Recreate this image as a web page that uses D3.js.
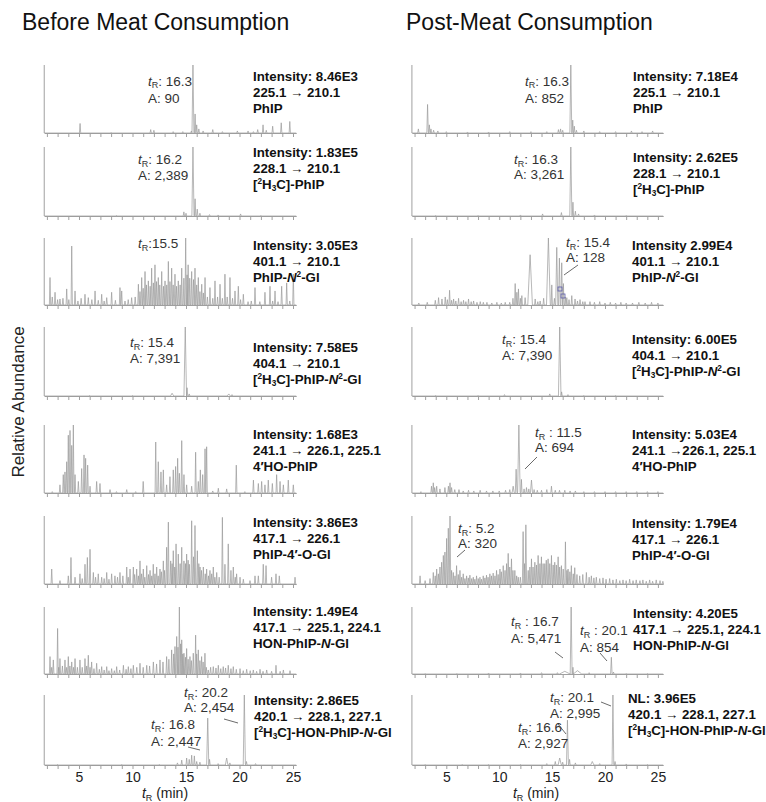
<!DOCTYPE html>
<html>
<head>
<meta charset="utf-8">
<script src="https://cdn.jsdelivr.net/npm/d3@7"></script>
<style>
  body { margin: 0; background: #fff; }
  text { font-family: "Liberation Sans", Arial, sans-serif; }
</style>
</head>
<body>
<div id="chart"></div>
<script>
// ---------- data ----------
const titles = ["Before Meat Consumption", "Post-Meat Consumption"];
const analytes = ["PhIP", "[^2H_3C]-PhIP", "PhIP-*N*^2-Gl", "[^2H_3C]-PhIP-*N*^2-Gl",
                  "4′HO-PhIP", "PhIP-4′-O-Gl", "HON-PhIP-*N*-Gl", "[^2H_3C]-HON-PhIP-*N*-Gl"];
const transBefore = ["225.1  → 210.1", "228.1  → 210.1", "401.1  → 210.1", "404.1  → 210.1",
                     "241.1 → 226.1, 225.1", "417.1 → 226.1", "417.1 → 225.1, 224.1", "420.1 → 228.1, 227.1"];
const transPost = ["225.1  → 210.1", "228.1  → 210.1", "401.1  → 210.1", "404.1  → 210.1",
                   "241.1 →226.1, 225.1", "417.1 → 226.1", "417.1 → 225.1, 224.1", "420.1 → 228.1, 227.1"];
const intensBefore = ["Intensity: 8.46E3", "Intensity: 1.83E5", "Intensity: 3.05E3", "Intensity: 7.58E5",
                      "Intensity: 1.68E3", "Intensity: 3.86E3", "Intensity: 1.49E4", "Intensity: 2.86E5"];
const intensPost = ["Intensity: 7.18E4", "Intensity: 2.62E5", "Intensity 2.99E4", "Intensity: 6.00E5",
                    "Intensity: 5.03E4", "Intensity: 1.79E4", "Intensity: 4.20E5", "NL: 3.96E5"];
const minorTicks = d3.range(2, 26);
const majorTicks = [5, 10, 15, 20, 25];

// peaks: [tR (min), relative height, half width (min, default 0.06)]
const b1 = [[5.1,0.14],[8.0,0.01],[11.7,0.05],[12.0,0.04],[13.8,0.02],[14.7,0.02],[15.5,0.03],[15.65,1.0,0.09],
  [15.85,0.28],[16.0,0.12],[16.2,0.06],[16.6,0.03],[17.5,0.05],[18.4,0.02],[19.8,0.03],[20.8,0.03],[21.3,0.02],
  [21.7,0.05],[22.2,0.12],[22.5,0.04],[23.1,0.1],[23.9,0.15],[24.7,0.17]];
const b2 = [[8.5,0.01],[14.8,0.06],[15.0,0.04],[15.65,1.0,0.1],[15.85,0.25],[16.05,0.1],[16.3,0.04],[17.2,0.02],
  [18.0,0.015],[20.1,0.03],[22.0,0.01]];
const b3 = [[2.29,0.41],[2.5,0.12],[2.76,0.19],[3.0,0.08],[3.22,0.09],[3.5,0.1],[3.85,0.24],[4.05,0.08],[4.32,0.88],
  [4.63,0.21],[4.9,0.06],[5.2,0.1],[5.56,0.16],[5.87,0.11],[6.2,0.08],[6.5,0.21],[6.8,0.07],[7.12,0.16],[7.35,0.06],
  [7.59,0.11],[8.05,0.19],[8.4,0.07],[8.83,0.26],[8.99,0.21],[9.3,0.06],[9.6,0.08],[9.92,0.11],[10.25,0.12],
  [10.55,0.31],[10.7,0.2],[10.86,0.41],[11.0,0.25],[11.17,0.5],[11.3,0.3],[11.48,0.36],[11.65,0.28],[11.79,0.55],
  [11.95,0.33],[12.1,0.6],[12.25,0.35],[12.41,0.41],[12.55,0.3],[12.73,0.5],[12.9,0.28],[13.04,0.36],[13.2,0.3],
  [13.35,0.65],[13.5,0.35],[13.66,0.55],[13.8,0.3],[13.97,0.46],[14.12,0.28],[14.28,0.36],[14.45,0.3],[14.6,0.55],
  [14.8,0.4],[14.97,1.0],[15.1,0.45],[15.2,0.6],[15.35,0.4],[15.53,0.5],[15.7,0.38],[15.84,0.55],[16.0,0.3],
  [16.15,0.41],[16.3,0.2],[16.47,0.31],[16.62,0.18],[16.78,0.41],[17.0,0.12],[17.24,0.26],[17.5,0.1],[17.71,0.36],
  [17.95,0.12],[18.18,0.31],[18.4,0.1],[18.64,0.46],[18.85,0.12],[19.11,0.41],[19.35,0.1],[19.58,0.21],[19.89,0.28],
  [20.1,0.08],[20.36,0.16],[20.8,0.05],[21.1,0.06],[21.45,0.26],[21.9,0.05],[22.38,0.19],[22.85,0.28],[23.1,0.06],
  [23.32,0.21],[23.6,0.05],[23.94,0.28],[24.41,0.33],[24.7,0.06],[25.03,0.46]];
const b4 = [[6.0,0.01],[10.0,0.01],[13.7,0.04,0.15],[14.93,1.0,0.12],[15.1,0.12],[15.3,0.03],[19.0,0.03,0.15],[19.3,0.02]];
const b5 = [[2.5,0.02],[3.22,0.12],[3.53,0.27],[3.69,0.31],[3.85,0.46],[4.0,0.85],[4.16,0.92],[4.32,0.7],[4.47,1.0],
  [4.63,0.27],[4.94,0.17],[5.25,0.36],[5.47,0.56],[5.62,0.51],[5.81,0.41],[6.03,0.1],[6.65,0.17],[6.96,0.14],
  [7.9,0.05],[8.5,0.02],[9.46,0.05],[10.3,0.02],[11.0,0.17],[12.17,0.75],[12.41,0.46],[12.66,0.31],[12.88,0.34],
  [13.19,0.12],[13.5,0.24],[13.81,0.34],[14.03,0.39],[14.22,0.51],[14.38,0.29],[14.6,0.77],[14.81,0.27],[15.06,0.12],
  [15.53,0.1],[15.9,0.6],[16.15,0.17],[16.34,0.34],[16.56,0.27],[16.78,0.65],[16.93,0.68],[17.5,0.03],[18.02,0.07],
  [18.8,0.06],[19.7,0.41],[20.5,0.02],[21.3,0.19],[21.76,0.14],[22.07,0.17],[22.38,0.12],[22.69,0.19],[23.07,0.14],
  [23.47,0.27],[23.79,0.17],[24.1,0.12],[24.56,0.19],[25.03,0.12]];
const b6 = [[2.45,0.22],[3.22,0.05],[4.0,0.12],[4.25,0.39],[4.63,0.1],[5.09,0.15],[5.3,0.08],[5.56,0.29],[5.78,0.39],
  [6.03,0.51],[6.34,0.17],[6.55,0.1],[6.8,0.15],[7.12,0.1],[7.35,0.08],[7.59,0.17],[7.8,0.07],[8.05,0.15],[8.36,0.12],
  [8.6,0.1],[8.83,0.17],[9.1,0.12],[9.46,0.25],[9.6,0.1],[9.77,0.22],[10.08,0.25],[10.2,0.14],[10.39,0.22],
  [10.55,0.12],[10.7,0.34],[10.85,0.15],[11.01,0.22],[11.15,0.1],[11.33,0.27],[11.5,0.14],[11.64,0.2],[11.8,0.12],
  [11.94,0.29],[12.1,0.15],[12.26,0.25],[12.4,0.12],[12.57,0.22],[12.7,0.18],[12.88,0.34],[13.0,0.2],[13.19,0.54],
  [13.35,0.91],[13.57,0.34],[13.7,0.3],[13.81,0.49],[13.95,0.25],[14.07,0.59],[14.28,0.44],[14.45,0.3],[14.6,0.54],
  [14.81,0.34],[14.95,0.3],[15.06,0.44],[15.2,0.35],[15.31,0.29],[15.53,0.93],[15.7,0.4],[15.84,0.86],[16.06,0.49],
  [16.2,0.3],[16.31,0.25],[16.45,0.2],[16.62,0.25],[16.8,0.15],[16.93,0.22],[17.1,0.12],[17.24,0.2],[17.4,0.15],
  [17.55,0.25],[17.7,0.1],[17.87,0.17],[18.1,0.1],[18.4,0.98],[18.64,0.29],[18.95,0.59],[19.2,0.2],[19.42,0.25],
  [19.6,0.1],[19.73,0.15],[20.05,0.1],[20.36,0.07],[20.98,0.05],[21.45,0.12],[21.76,0.12],[22.22,0.29],[22.48,0.27],
  [23.0,0.1],[23.41,0.15],[23.72,0.12],[25.19,0.1]];
const b7 = [[2.29,0.26],[2.45,0.1],[2.6,0.21],[3.0,0.68],[3.1,0.1],[3.22,0.23],[3.45,0.12],[3.69,0.21],[3.85,0.1],
  [4.0,0.26],[4.15,0.12],[4.32,0.18],[4.48,0.1],[4.63,0.23],[4.85,0.1],[5.09,0.21],[5.3,0.1],[5.56,0.23],[5.72,0.12],
  [5.87,0.28],[6.03,0.1],[6.18,0.18],[6.4,0.08],[6.65,0.16],[6.9,0.07],[7.12,0.11],[7.35,0.06],[7.59,0.11],[7.8,0.05],
  [8.05,0.08],[8.3,0.05],[8.52,0.11],[8.8,0.06],[9.15,0.13],[9.4,0.07],[9.61,0.11],[9.85,0.08],[10.08,0.13],
  [10.4,0.1],[10.7,0.16],[11.0,0.1],[11.33,0.13],[11.6,0.12],[11.95,0.18],[12.25,0.15],[12.57,0.21],[12.85,0.18],
  [13.19,0.26],[13.4,0.22],[13.66,0.36],[13.85,0.3],[13.97,0.41],[14.13,0.56],[14.25,0.4],[14.38,1.0],[14.5,0.45],
  [14.6,0.51],[14.7,0.3],[14.81,0.31],[14.95,0.25],[15.06,0.38],[15.2,0.22],[15.37,0.26],[15.5,0.2],[15.68,0.31],
  [15.9,0.58],[16.0,0.3],[16.15,0.36],[16.3,0.2],[16.46,0.26],[16.6,0.18],[16.77,0.31],[16.9,0.1],[17.08,0.06],
  [17.3,0.1],[17.55,0.11],[17.8,0.09],[18.02,0.13],[18.25,0.08],[18.48,0.11],[18.7,0.09],[18.95,0.13],[19.2,0.08],
  [19.42,0.11],[19.7,0.07],[20.05,0.08],[20.35,0.05],[20.67,0.07],[21.0,0.05],[21.29,0.06],[21.6,0.04],[21.92,0.07],
  [22.2,0.04],[22.54,0.06],[23.0,0.04],[23.41,0.13],[23.8,0.04],[24.1,0.06],[24.72,0.05]];
const b8 = [[3.0,0.01],[9.0,0.01],[12.5,0.01],[14.2,0.03],[14.6,0.07],[15.06,0.1],[15.3,0.08],[15.53,0.14],[15.78,0.13],
  [16.0,0.05],[16.3,0.04],[17.03,0.67,0.1],[17.2,0.08],[18.0,0.02],[18.8,0.1,0.12],[19.1,0.03],[20.45,1.0,0.1],
  [20.65,0.05],[21.5,0.02]];

const p1 = [[2.36,0.06],[3.23,0.42,0.07],[3.4,0.12],[3.55,0.06],[3.8,0.04],[4.2,0.03],[5.0,0.02],[7.0,0.015],[9.0,0.015],
  [11.0,0.02],[13.0,0.02],[14.5,0.02],[15.6,0.05],[15.8,0.06],[16.0,0.04],[16.77,1.0,0.09],[16.95,0.19],[17.1,0.1],
  [17.3,0.04],[18.0,0.03],[19.5,0.02],[21.0,0.02],[22.5,0.03],[23.5,0.02],[24.5,0.03]];
const p2 = [[4.0,0.01],[8.0,0.01],[12.0,0.015],[14.1,0.03],[15.88,0.05],[16.77,1.0,0.1],[16.97,0.2],[17.2,0.07],
  [17.5,0.03],[19.0,0.015],[22.0,0.01]];
const p3 = [[2.4,0.03],[3.2,0.04],[3.96,0.07],[4.27,0.11],[4.59,0.09],[4.9,0.12],[5.1,0.08],[5.31,0.22],[5.5,0.07],
  [5.69,0.09],[5.9,0.06],[6.16,0.1],[6.4,0.05],[6.63,0.07],[6.85,0.05],[7.1,0.09],[7.35,0.05],[7.58,0.06],[7.9,0.04],
  [8.21,0.05],[8.5,0.04],[8.84,0.04],[9.3,0.03],[9.78,0.04],[10.2,0.03],[10.57,0.04],[11.0,0.04],[11.3,0.1],
  [11.51,0.32],[11.67,0.19],[11.82,0.24],[12.0,0.1],[12.14,0.14],[12.45,0.11],[12.92,0.75,0.22],[13.4,0.09],
  [13.65,0.05],[13.87,0.06],[14.2,0.1],[14.65,1.0,0.18],[14.97,0.3],[15.22,0.1],[15.44,0.86,0.1],[15.69,0.7,0.08],
  [15.91,0.63,0.08],[16.07,0.32],[16.25,0.12],[16.39,0.11],[16.6,0.08],[16.86,0.14],[17.17,0.09],[17.4,0.06],
  [17.64,0.08],[17.9,0.05],[18.11,0.05],[18.58,0.05],[19.0,0.04],[19.5,0.05],[20.0,0.03],[20.5,0.04],[21.0,0.03],
  [21.5,0.04],[22.0,0.03],[22.6,0.03],[23.2,0.04],[23.8,0.03],[24.4,0.04],[25.0,0.03]];
const p4 = [[4.0,0.01],[8.0,0.01],[10.5,0.02],[14.78,0.03],[15.72,1.0,0.12],[15.9,0.06],[16.5,0.02],[18.0,0.01],[21.0,0.01]];
const p5 = [[2.6,0.02],[3.6,0.1],[3.77,0.15],[3.9,0.08],[4.09,0.1],[4.4,0.06],[4.87,0.08],[5.2,0.1],[5.35,0.15],[5.5,0.08],
  [5.8,0.05],[6.2,0.05],[6.6,0.03],[7.1,0.04],[7.6,0.03],[8.2,0.04],[8.8,0.03],[9.4,0.03],[10.0,0.03],[10.6,0.04],
  [11.0,0.05],[11.32,0.1,0.1],[11.6,0.35,0.08],[11.86,1.0,0.12],[12.1,0.2],[12.35,0.06],[12.58,0.08],[12.8,0.06],
  [13.05,0.19,0.1],[13.3,0.05],[13.6,0.04],[14.0,0.04],[14.5,0.05],[14.94,0.1],[15.3,0.04],[15.7,0.04],[16.2,0.04],
  [16.7,0.03],[17.2,0.03],[18.0,0.02],[19.0,0.02],[20.0,0.02],[21.0,0.02],[22.0,0.02],[23.0,0.02],[24.0,0.02],[25.0,0.02]];
const p6 = [[2.52,0.12],[3.0,0.05],[3.46,0.08],[3.77,0.17],[3.95,0.12],[4.09,0.22],[4.25,0.15],[4.4,0.25],[4.56,0.32],
  [4.72,0.42],[4.87,0.47],[5.03,0.67],[5.19,0.82],[5.35,1.0,0.07],[5.5,0.2],[5.66,0.17],[5.82,0.12],[5.97,0.27],
  [6.13,0.14],[6.29,0.2],[6.45,0.1],[6.6,0.15],[6.76,0.08],[6.92,0.12],[7.08,0.09],[7.23,0.13],[7.4,0.08],[7.55,0.1],
  [7.7,0.07],[7.86,0.12],[8.02,0.08],[8.18,0.1],[8.33,0.07],[8.49,0.12],[8.65,0.09],[8.8,0.13],[8.95,0.1],[9.12,0.15],
  [9.27,0.12],[9.43,0.16],[9.6,0.12],[9.75,0.2],[9.9,0.14],[10.07,0.22],[10.2,0.18],[10.38,0.27],[10.55,0.2],
  [10.7,0.3],[10.85,0.45],[11.0,0.25],[11.16,0.37],[11.3,0.2],[11.48,0.2],[11.65,0.12],[11.8,0.1],[12.0,0.1],
  [12.26,0.77,0.07],[12.4,0.3],[12.52,0.87,0.07],[12.74,0.2],[12.9,0.25],[13.05,0.37],[13.2,0.25],[13.37,0.32],
  [13.52,0.28],[13.68,0.42],[13.85,0.3],[13.99,0.4],[14.15,0.3],[14.31,0.3],[14.45,0.35],[14.62,0.37],[14.78,0.3],
  [14.94,0.42],[15.1,0.28],[15.25,0.32],[15.4,0.28],[15.57,0.4],[15.72,0.25],[15.88,0.27],[16.05,0.22],[16.26,0.62],
  [16.4,0.2],[16.51,0.22],[16.68,0.18],[16.82,0.27],[17.0,0.15],[17.14,0.24],[17.35,0.14],[17.61,0.12],[17.9,0.14],
  [18.24,0.17],[18.5,0.1],[18.71,0.12],[18.95,0.09],[19.18,0.1],[19.5,0.08],[19.81,0.09],[20.1,0.07],[20.44,0.08],
  [20.75,0.06],[21.07,0.07],[21.4,0.05],[21.7,0.06],[22.0,0.05],[22.33,0.07],[22.65,0.05],[22.95,0.06],[23.3,0.05],
  [23.58,0.06],[23.9,0.04],[24.22,0.06],[24.5,0.04],[24.84,0.06],[25.2,0.05],[25.47,0.04]];
const p7 = [[3.0,0.01],[6.0,0.01],[9.0,0.015],[12.0,0.015],[14.0,0.02],[15.5,0.02],[16.2,0.04,0.5],[16.8,1.0,0.09],
  [16.97,0.1],[17.4,0.05,0.4],[18.5,0.02],[20.6,0.25,0.07],[20.8,0.03],[22.0,0.01],[24.0,0.01]];
const p8 = [[3.0,0.01],[6.5,0.01],[9.0,0.01],[12.0,0.01],[14.5,0.02],[15.3,0.05],[15.72,0.1,0.15],[16.0,0.04],
  [16.45,0.64,0.09],[16.65,0.08],[17.2,0.03],[18.8,0.05,0.15],[19.5,0.02],[20.75,1.0,0.08],[20.95,0.05],[22.0,0.015],[24.0,0.01]];

const tracesBefore = [b1, b2, b3, b4, b5, b6, b7, b8];
const tracesPost = [p1, p2, p3, p4, p5, p6, p7, p8];

// peak labels: [panel, tR text, area text]
const labelsBefore = [[0, ": 16.3", "90"], [1, ": 16.2", "2,389"], [2, ":15.5", null], [3, ": 15.4", "7,391"],
                      [7, ": 20.2", "2,454"], [7, ": 16.8", "2,447"]];
const labelsPost = [[0, ": 16.3", "852"], [1, ": 16.3", "3,261"], [2, ": 15.4", "128"], [3, ": 15.4", "7,390"],
                    [4, " : 11.5", "694"], [5, ": 5.2", "320"], [6, " : 16.7", "5,471"], [6, " : 20.1", "854"],
                    [7, ": 20.1", "2,995"], [7, ": 16.6", "2,927"]];

// ---------- layout ----------
const W = 766, H = 802;
const panelTop = [65, 147, 238, 327, 425, 516, 607, 695];
const panelBase = [133, 216, 305, 396, 493, 584, 674, 765];
const lineGap = 15.8;
const fs = 13.3;

// label positions: [x, tR baseline, A baseline, leader line]
const labelPosBefore = [[148, 85.5, 102.5], [138, 164, 180], [138, 248], [130, 347, 363],
                        [184, 697, 712, [224, 719, 238, 723]], [151, 729, 746, [188, 747, 200, 750]]];
const labelPosPost = [[525, 85.5, 103], [514, 164, 179], [566, 247, 262, [578, 265, 564, 275]], [502, 344, 360],
                      [535, 437, 452, [537, 457, 525, 469]], [458, 533, 548, [465, 550, 457, 557]],
                      [511, 626, 643, [555, 652, 563, 658]], [580, 635, 651.5, [600, 653, 607, 661]],
                      [550, 702, 718, [601, 702, 611, 706]], [518, 732, 748, [558, 724, 566, 734]]];

const columns = [
  { title: titles[0], titleX: 22, traces: tracesBefore, trans: transBefore, intens: intensBefore,
    textX: [253, 253, 253, 253, 253, 253, 253, 254], textY: [81, 157, 250, 352, 439, 527, 616, 705],
    x: d3.scaleLinear().domain([1.75, 25.3]).range([79 - 3.25 * 10.7, 79 + 20.3 * 10.7]),
    labels: labelsBefore, labelPos: labelPosBefore, axisLabelX: 165 },
  { title: titles[1], titleX: 406, traces: tracesPost, trans: transPost, intens: intensPost,
    textX: [633, 633, 632, 632, 632, 632, 633, 628], textY: [81, 162, 250, 344, 439, 528, 618, 703],
    x: d3.scaleLinear().domain([1.75, 25.5]).range([446.3 - 3.25 * 10.58, 446.3 + 20.5 * 10.58]),
    labels: labelsPost, labelPos: labelPosPost, axisLabelX: 536 }
];

const svg = d3.select("#chart").append("svg")
  .attr("width", W).attr("height", H);

// rich text: ^2 superscript, _3 subscript, *N* italic
function rich(sel, str, size) {
  const parts = str.split(/(\^\d|_\d|\*[^*]+\*)/).filter(s => s);
  let shift = 0;
  parts.forEach(p => {
    let dy = 0, small = false, italic = false, txt = p;
    if (p[0] === "^") { txt = p.slice(1); small = true; dy = -5; }
    else if (p[0] === "_") { txt = p.slice(1); small = true; dy = 2.5; }
    else if (p[0] === "*") { txt = p.slice(1, -1); italic = true; }
    const ts = sel.append("tspan").text(txt).attr("dy", dy - shift);
    shift = dy;
    if (small) ts.attr("font-size", size * 0.62);
    if (italic) ts.attr("font-style", "italic");
  });
}

function rtLabel(g, x, y, rest) {
  const t = g.append("text").attr("x", x).attr("y", y)
    .attr("font-size", 13.5).attr("fill", "#333");
  t.append("tspan").attr("font-style", "italic").text("t");
  t.append("tspan").attr("font-size", 9).attr("dy", 2.5).text("R");
  t.append("tspan").attr("dy", -2.5).text(rest);
}

function tracePoints(peaks, t0, t1) {
  const pts = [[t0, 0]];
  peaks.slice().sort((a, b) => a[0] - b[0]).forEach(p => {
    const w = p[2] || 0.06;
    pts.push([p[0] - w, 0], [p[0], p[1]], [p[0] + w, 0]);
  });
  pts.push([t1, 0]);
  return pts;
}

columns.forEach(col => {
  const x = col.x;
  const [t0, t1] = x.domain();

  svg.append("text")
    .attr("x", col.titleX).attr("y", 30)
    .attr("font-size", 23).attr("fill", "#111")
    .text(col.title);

  col.traces.forEach((peaks, i) => {
    const y = d3.scaleLinear().domain([0, 1]).range([panelBase[i], panelTop[i]]);
    const g = svg.append("g");

    // y axis line
    g.append("line")
      .attr("x1", x(t0)).attr("x2", x(t0))
      .attr("y1", panelTop[i]).attr("y2", panelBase[i])
      .attr("stroke", "#a0a0a0").attr("stroke-width", 1);

    // x axis
    const last = i === col.traces.length - 1;
    const axis = d3.axisBottom(x)
      .tickValues(minorTicks)
      .tickSize(4).tickSizeOuter(0)
      .tickFormat(d => (last && majorTicks.includes(d)) ? d : "");
    const ag = g.append("g")
      .attr("transform", `translate(0,${panelBase[i]})`)
      .call(axis);
    ag.select(".domain").attr("stroke", "#a0a0a0");
    ag.selectAll(".tick line").attr("stroke", "#a0a0a0");
    ag.selectAll(".tick text").attr("font-size", 14).attr("fill", "#222")
      .attr("font-family", "Liberation Sans, Arial, sans-serif");

    // trace
    g.append("path")
      .datum(tracePoints(peaks, t0, t1))
      .attr("fill", "none")
      .attr("stroke", "#9a9a9a")
      .attr("stroke-width", 0.7)
      .attr("stroke-linejoin", "round")
      .attr("d", d3.line().x(d => x(d[0])).y(d => y(d[1])));

    // description block
    const ty = col.textY[i];
    const lines = [col.intens[i], col.trans[i], analytes[i]];
    lines.forEach((s, k) => {
      const t = svg.append("text")
        .attr("x", col.textX[i]).attr("y", ty + k * lineGap)
        .attr("font-size", fs).attr("font-weight", "bold").attr("fill", "#111");
      if (k === 2) rich(t, s, fs); else t.text(s);
    });
  });

  // peak labels
  col.labels.forEach((lab, j) => {
    const pos = col.labelPos[j];
    rtLabel(svg, pos[0], pos[1], lab[1]);
    if (lab[2]) {
      svg.append("text").attr("x", pos[0]).attr("y", pos[2])
        .attr("font-size", 13.5).attr("fill", "#333")
        .text("A: " + lab[2]);
    }
    if (pos[3]) {
      svg.append("line")
        .attr("x1", pos[3][0]).attr("y1", pos[3][1])
        .attr("x2", pos[3][2]).attr("y2", pos[3][3])
        .attr("stroke", "#444").attr("stroke-width", 0.8);
    }
  });

  // x axis title
  const xt = svg.append("text")
    .attr("x", col.axisLabelX).attr("y", 798)
    .attr("text-anchor", "middle").attr("font-size", 14).attr("fill", "#222");
  xt.append("tspan").attr("font-style", "italic").text("t");
  xt.append("tspan").attr("font-size", 9).attr("dy", 2.5).text("R");
  xt.append("tspan").attr("dy", -2.5).text(" (min)");
});

// small integration markers on the post-meat PhIP-N2-Gl trace
[[558, 287], [561, 294]].forEach(p => {
  svg.append("rect").attr("x", p[0]).attr("y", p[1]).attr("width", 4).attr("height", 4)
    .attr("fill", "none").attr("stroke", "#5a5aa8").attr("stroke-width", 0.8);
});

// y axis title
svg.append("text")
  .attr("transform", "translate(24,402) rotate(-90)")
  .attr("text-anchor", "middle").attr("font-size", 17).attr("fill", "#222")
  .text("Relative Abundance");
</script>
</body>
</html>
